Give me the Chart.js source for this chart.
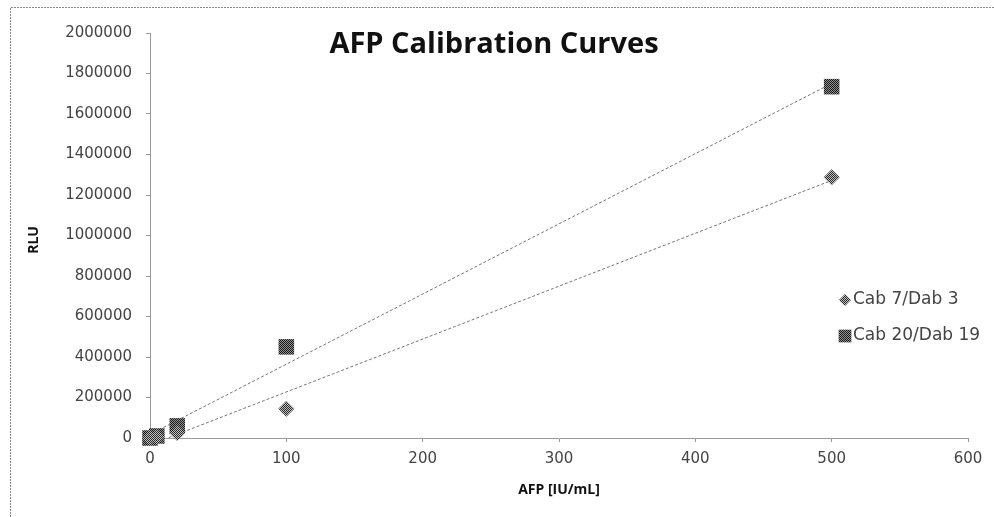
<!DOCTYPE html>
<html>
<head>
<meta charset="utf-8">
<script src="https://cdn.jsdelivr.net/npm/chart.js@4.4.0/dist/chart.umd.min.js"></script>
<style>
  html, body { margin: 0; padding: 0; background: #fff; }
  #wrap { position: relative; width: 994px; height: 517px; }
  canvas { display: block; }
</style>
</head>
<body>
<div id="wrap"><canvas id="c" width="994" height="517"></canvas></div>
<script>
// ---- data ----
const afpLevels = [0, 5, 20, 100, 500];                    // AFP [IU/mL]
const cab7Dab3  = [0, 5000, 25000, 145000, 1288000];       // RLU
const cab20Dab19 = [0, 10000, 60000, 450000, 1735000];     // RLU
const seriesNames = ['Cab 7/Dab 3', 'Cab 20/Dab 19'];
const xTicks = [0, 100, 200, 300, 400, 500, 600];
const yTicks = [0, 200000, 400000, 600000, 800000, 1000000, 1200000, 1400000, 1600000, 1800000, 2000000];
const chartTitle = 'AFP Calibration Curves';
const xTitle = 'AFP [IU/mL]';
const yTitle = 'RLU';

// linear least-squares trendline over the data range
function trend(xs, ys) {
  const n = xs.length;
  const mx = xs.reduce((a, b) => a + b, 0) / n;
  const my = ys.reduce((a, b) => a + b, 0) / n;
  let sxy = 0, sxx = 0;
  for (let i = 0; i < n; i++) { sxy += (xs[i] - mx) * (ys[i] - my); sxx += (xs[i] - mx) ** 2; }
  const m = sxy / sxx, b = my - m * mx;
  const x0 = Math.min(...xs), x1 = Math.max(...xs);
  return [{ x: x0, y: m * x0 + b }, { x: x1, y: m * x1 + b }];
}
const pts = (xs, ys) => xs.map((x, i) => ({ x, y: ys[i] }));

function checker(c1, c2) {
  const p = document.createElement('canvas');
  p.width = 2; p.height = 2;
  const g = p.getContext('2d');
  g.fillStyle = c2; g.fillRect(0, 0, 2, 2);
  g.fillStyle = c1; g.fillRect(0, 0, 1, 1); g.fillRect(1, 1, 1, 1);
  return g.createPattern(p, 'repeat');
}
const diamondFill = checker('#2a2a2a', '#c0c0c0');
const squareFill = checker('#1a1a1a', '#909090');

const AREA = { left: 150, right: 968, top: 33, bottom: 438 };
const TICK_FONT = { family: 'DejaVu Sans', size: 15 };

const decor = {
  id: 'decor',
  beforeDraw(chart) {
    const ctx = chart.ctx;
    ctx.save();
    ctx.strokeStyle = '#888';
    ctx.lineWidth = 1;
    ctx.setLineDash([2, 1]);
    ctx.beginPath();
    ctx.moveTo(10.5, 517); ctx.lineTo(10.5, 7.5); ctx.lineTo(994, 7.5);
    ctx.stroke();
    ctx.restore();
  },
  afterDraw(chart) {
    const ctx = chart.ctx;
    const a = chart.chartArea;
    ctx.save();
    ctx.fillStyle = '#111';
    ctx.textAlign = 'center';
    ctx.textBaseline = 'middle';
    ctx.font = 'bold 29px "Open Sans"';
    ctx.fillText(chartTitle, 494, 45);
    ctx.font = 'bold 14px "Open Sans"';
    ctx.fillText(xTitle, (a.left + a.right) / 2, 490);
    ctx.translate(34, 240);
    ctx.rotate(-Math.PI / 2);
    ctx.fillText(yTitle, 0, 0);
    ctx.restore();

    // legend
    ctx.save();
    ctx.font = '17px "DejaVu Sans"';
    ctx.textAlign = 'left';
    ctx.textBaseline = 'middle';
    const items = [
      { y: 300, style: 'rectRot', fill: diamondFill, r: 6 },
      { y: 336, style: 'rect', fill: squareFill, r: 9 }
    ];
    items.forEach((it, i) => {
      ctx.fillStyle = it.fill;
      ctx.strokeStyle = 'rgba(0,0,0,0)';
      Chart.helpers.drawPoint(ctx, { pointStyle: it.style, radius: it.r, borderWidth: 0 }, 845, it.y);
      ctx.fillStyle = '#444';
      ctx.fillText(seriesNames[i], 853, it.y);
    });
    ctx.restore();
  }
};

new Chart(document.getElementById('c'), {
  type: 'scatter',
  data: {
    datasets: [
      { label: seriesNames[0] + ' trend', data: trend(afpLevels, cab7Dab3), showLine: true,
        borderColor: '#777', borderWidth: 1, borderDash: [3, 2], pointRadius: 0, fill: false, order: 3 },
      { label: seriesNames[1] + ' trend', data: trend(afpLevels, cab20Dab19), showLine: true,
        borderColor: '#777', borderWidth: 1, borderDash: [3, 2], pointRadius: 0, fill: false, order: 3 },
      { label: seriesNames[0], data: pts(afpLevels, cab7Dab3), pointStyle: 'rectRot', pointRadius: 8,
        backgroundColor: diamondFill, borderWidth: 0, borderColor: 'rgba(0,0,0,0)', order: 1, clip: false },
      { label: seriesNames[1], data: pts(afpLevels, cab20Dab19), pointStyle: 'rect', pointRadius: 11,
        backgroundColor: squareFill, borderWidth: 0, borderColor: 'rgba(0,0,0,0)', order: 2, clip: false }
    ]
  },
  options: {
    responsive: false,
    animation: false,
    layout: { padding: { left: 0, right: 994 - AREA.right, top: AREA.top, bottom: 0 } },
    plugins: { legend: { display: false }, title: { display: false }, tooltip: { enabled: false } },
    scales: {
      x: {
        type: 'linear', min: 0, max: 600,
        afterBuildTicks: s => { s.ticks = xTicks.map(v => ({ value: v })); },
        afterFit: s => { s.height = 517 - AREA.bottom; },
        ticks: { font: TICK_FONT, color: '#444', padding: 8, maxRotation: 0, autoSkip: false },
        grid: { drawOnChartArea: false, drawTicks: true, tickLength: 4, color: '#999' },
        border: { display: true, color: '#999', dash: [1, 2] }
      },
      y: {
        type: 'linear', min: 0, max: 2000000,
        afterBuildTicks: s => { s.ticks = yTicks.map(v => ({ value: v })); },
        afterFit: s => { s.width = AREA.left; },
        ticks: { font: TICK_FONT, color: '#444', padding: 14, callback: v => String(v), autoSkip: false },
        grid: { drawOnChartArea: false, drawTicks: true, tickLength: 4, color: '#999' },
        border: { display: true, color: '#999', dash: [1, 2] }
      }
    }
  },
  plugins: [decor]
});
</script>
</body>
</html>
